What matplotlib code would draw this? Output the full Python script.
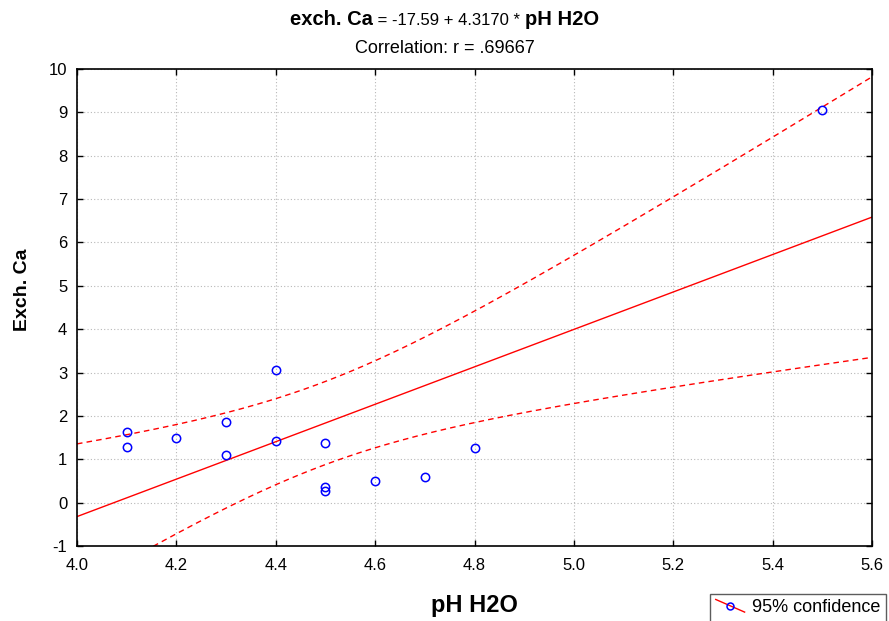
import numpy as np
import matplotlib
matplotlib.use("Agg")
import matplotlib.pyplot as plt
from matplotlib.lines import Line2D
from matplotlib.legend_handler import HandlerBase
from matplotlib.offsetbox import TextArea, HPacker, AnchoredOffsetbox

plt.rcParams["font.family"] = ["Liberation Sans", "DejaVu Sans"]
plt.rcParams["axes.unicode_minus"] = False

# data
ph = [4.1, 4.1, 4.2, 4.3, 4.3, 4.4, 4.4, 4.5, 4.5, 4.5, 4.6, 4.7, 4.8, 5.5]
ca = [1.62, 1.28, 1.50, 1.85, 1.10, 3.05, 1.42, 1.38, 0.35, 0.27, 0.50, 0.58, 1.25, 9.05]
intercept = -17.59
slope = 4.3170
t_crit = 2.1788  # t(0.975, df=12)

x = np.array(ph)
y = np.array(ca)
n = len(x)

# regression line + 95% confidence band for the mean
xs = np.linspace(4.0, 5.6, 200)
fit = intercept + slope * xs
resid = y - (intercept + slope * x)
s = np.sqrt(np.sum(resid ** 2) / (n - 2))
sxx = np.sum((x - x.mean()) ** 2)
half = t_crit * s * np.sqrt(1.0 / n + (xs - x.mean()) ** 2 / sxx)

fig = plt.figure(figsize=(8.89, 6.21), dpi=100)
ax = fig.add_axes([0.0866, 0.1208, 0.8944, 0.7681])

ax.plot(xs, fit, color="red", lw=1.0)
ax.plot(xs, fit + half, color="red", lw=1.0, ls=(0, (4, 3)))
ax.plot(xs, fit - half, color="red", lw=1.0, ls=(0, (4, 3)))
ax.plot(x, y, ls="none", marker="o", ms=6, mfc="none", mec="blue", mew=1.1)

ax.set_xlim(4.0, 5.6)
ax.set_ylim(-1, 10)
ax.set_xticks(np.arange(4.0, 5.61, 0.2))
ax.set_xticklabels([f"{v:.1f}" for v in np.arange(4.0, 5.61, 0.2)])
ax.set_yticks(range(-1, 11))
ax.grid(True, color="#b8b8b8", ls=(0, (1, 2)), lw=0.8)
ax.tick_params(direction="in", top=True, right=True, length=4, width=1,
               labelsize=12)
ax.tick_params(axis="x", pad=9)
ax.tick_params(axis="y", pad=7)
for sp in ax.spines.values():
    sp.set_linewidth(1.2)

ax.set_xlabel("pH H2O", fontsize=17, fontweight="bold", labelpad=15)
ax.set_ylabel("Exch. Ca", fontsize=14, fontweight="bold")
ax.yaxis.set_label_coords(-0.058, 0.537)

# title in mixed weights
parts = [
    TextArea("exch. Ca", textprops=dict(fontsize=14.5, fontweight="bold")),
    TextArea(" = -17.59 + 4.3170 * ", textprops=dict(fontsize=12)),
    TextArea("pH H2O", textprops=dict(fontsize=14.5, fontweight="bold")),
]
box = HPacker(children=parts, align="baseline", pad=0, sep=0)
anch = AnchoredOffsetbox(loc="center", child=box, frameon=False,
                         bbox_to_anchor=(0.5, 0.968), bbox_transform=fig.transFigure,
                         borderpad=0, pad=0)
fig.add_artist(anch)
fig.text(0.5, 0.922, "Correlation: r = .69667", ha="center", va="center", fontsize=13)


class DiagHandler(HandlerBase):
    def create_artists(self, legend, orig, xd, yd, width, height, fontsize, trans):
        ln = Line2D([xd, xd + width], [yd + height, yd], color="red", lw=1.0,
                    transform=trans)
        mk = Line2D([xd + width / 2], [yd + height / 2], ls="none", marker="o",
                    ms=5, mfc="none", mec="blue", mew=1.1, transform=trans)
        return [ln, mk]


h = Line2D([], [], color="red")
leg = fig.legend([h], ["95% confidence"], handler_map={Line2D: DiagHandler()},
                 loc="upper left", bbox_to_anchor=(0.799, 0.044), fontsize=13,
                 frameon=True, fancybox=False, edgecolor="#333333",
                 handlelength=1.6, handletextpad=0.4, borderpad=0.3,
                 borderaxespad=0)
leg.get_frame().set_linewidth(1.0)

fig.savefig("out.png", dpi=100)
